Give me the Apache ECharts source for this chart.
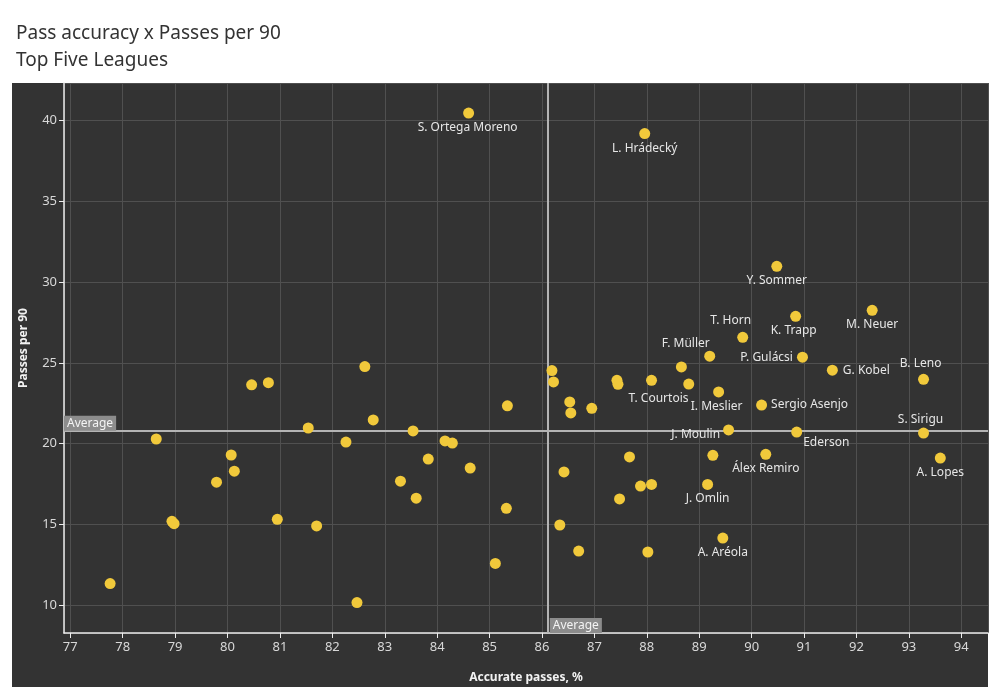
<!DOCTYPE html>
<html><head><meta charset="utf-8">
<script src="https://cdn.jsdelivr.net/npm/echarts@6/dist/echarts.min.js"></script>
<style>html,body{margin:0;padding:0;background:#fff}#c{width:1000px;height:700px}</style>
</head><body><div id="c"></div>
<script>
// ---- data ----
const accuracy = [84.60, 87.96, 90.48, 90.84, 92.30, 89.83, 89.20, 90.97, 88.66, 91.54,
  93.28, 86.19, 86.22, 87.43, 87.45, 88.09, 88.80, 89.37, 90.19, 86.53,
  86.55, 86.95, 89.56, 90.86, 93.28, 87.67, 89.26, 90.27, 93.60, 86.42,
  87.88, 88.09, 89.16, 87.48, 86.34, 89.45, 86.70, 88.02, 82.62, 80.46,
  80.78, 85.34, 82.78, 81.54, 83.54, 78.64, 82.26, 84.15, 84.29, 80.07,
  83.83, 80.13, 84.63, 79.79, 83.30, 83.60, 85.32, 78.94, 78.98, 80.95,
  81.70, 85.11, 77.76, 82.47];
const passesPer90 = [40.45, 39.18, 30.97, 27.88, 28.25, 26.58, 25.41, 25.35, 24.75, 24.55,
  23.98, 24.52, 23.82, 23.92, 23.67, 23.92, 23.69, 23.20, 22.39, 22.58,
  21.90, 22.19, 20.85, 20.72, 20.66, 19.18, 19.28, 19.34, 19.11, 18.25,
  17.38, 17.48, 17.48, 16.58, 14.97, 14.16, 13.36, 13.30, 24.77, 23.64,
  23.77, 22.34, 21.47, 20.97, 20.79, 20.29, 20.10, 20.17, 20.04, 19.30,
  19.05, 18.30, 18.49, 17.62, 17.68, 16.63, 16.00, 15.20, 15.05, 15.32,
  14.91, 12.59, 11.35, 10.17];
const players = ['S. Ortega Moreno', 'L. Hrádecký', 'Y. Sommer', 'K. Trapp', 'M. Neuer', 'T. Horn', 'F. Müller', 'P. Gulácsi', '', 'G. Kobel',
  'B. Leno', '', '', '', '', 'T. Courtois', '', 'I. Meslier', 'Sergio Asenjo', '',
  '', '', 'J. Moulin', 'Ederson', 'S. Sirigu', '', '', 'Álex Remiro', 'A. Lopes', '',
  '', '', 'J. Omlin', '', '', 'A. Aréola', '', '', '', '',
  '', '', '', '', '', '', '', '', '', '',
  '', '', '', '', '', '', '', '', '', '',
  '', '', '', ''];
const avgAccuracy = 86.11;
const avgPasses = 20.8;
const averageLabel = 'Average';
const titleText = 'Pass accuracy x Passes per 90';
const subtitleText = 'Top Five Leagues';
const xAxisName = 'Accurate passes, %';
const yAxisName = 'Passes per 90';

// ---- label placement (style, not data) ----
const labelPlacement = {
  'S. Ortega Moreno': {position: 'bottom', distance: 3, shift: [-1, 0]},
  'L. Hrádecký': {position: 'bottom', distance: 3},
  'Y. Sommer': {position: 'bottom', distance: 3},
  'K. Trapp': {position: 'bottom', distance: 3, shift: [-2, 0]},
  'M. Neuer': {position: 'bottom', distance: 3},
  'T. Horn': {position: 'top', distance: 3, shift: [-12, -2]},
  'F. Müller': {position: 'top', distance: 3, shift: [-24, 2]},
  'P. Gulácsi': {position: 'left', distance: 4},
  'G. Kobel': {position: 'right', distance: 5},
  'B. Leno': {position: 'top', distance: 4, shift: [-3, 0]},
  'T. Courtois': {position: 'bottom', distance: 3, shift: [7, 4]},
  'I. Meslier': {position: 'bottom', distance: 3, shift: [-2, 0]},
  'Sergio Asenjo': {position: 'right', distance: 4},
  'J. Moulin': {position: 'left', distance: 3, shift: [0, 5]},
  'Ederson': {position: 'right', distance: 1, shift: [0, 11]},
  'S. Sirigu': {position: 'top', distance: 2, shift: [-3, 0]},
  'Álex Remiro': {position: 'bottom', distance: 3},
  'A. Lopes': {position: 'bottom', distance: 3},
  'J. Omlin': {position: 'bottom', distance: 3},
  'A. Aréola': {position: 'bottom', distance: 3}
};

const FONT = 'Noto Sans';
const X_MIN = 76.88, X_MAX = 94.51, Y_MIN = 8.29, Y_MAX = 42.31;

const points = accuracy.map((x, i) => {
  const n = players[i];
  const item = {value: [x, passesPer90[i]], name: n};
  if (n) {
    const p = labelPlacement[n] || {position: 'bottom'};
    item.label = {show: true, formatter: n, position: p.position, distance: p.distance};
  }
  return item;
});

const avgBox = {
  show: true,
  formatter: averageLabel,
  color: '#f4f4f4',
  backgroundColor: '#8c8c8c',
  padding: [2, 3, 1, 3],
  fontFamily: FONT,
  fontSize: 12,
  align: 'left',
  verticalAlign: 'bottom',
  position: [0, 0]
};

const chart = echarts.init(document.getElementById('c'));
chart.setOption({
  backgroundColor: '#ffffff',
  animation: false,
  graphic: [{
    type: 'rect', left: 12, top: 83, z: -10,
    shape: {width: 976, height: 604},
    style: {fill: '#333333'}
  }],
  title: {
    text: titleText + '\n' + subtitleText,
    left: 11, top: 15,
    textStyle: {fontFamily: FONT, fontSize: 19, fontWeight: 'normal', color: '#333333', lineHeight: 27}
  },
  grid: {left: 64, top: 83, right: 12, bottom: 67, containLabel: false},
  xAxis: {
    type: 'value', min: X_MIN, max: X_MAX, splitNumber: 17,
    name: xAxisName, nameLocation: 'middle', nameGap: 39,
    nameTextStyle: {color: '#f2f2f2', fontFamily: FONT, fontSize: 12, fontWeight: 'bold'},
    axisLine: {show: true, lineStyle: {color: '#ececec', width: 1.5}},
    axisTick: {show: true, length: 5, lineStyle: {color: '#ececec'}},
    axisLabel: {color: '#d8d8d8', fontFamily: FONT, fontSize: 13, margin: 8, showMinLabel: false, showMaxLabel: false},
    splitLine: {show: true, lineStyle: {color: '#505050', width: 1}}
  },
  yAxis: {
    type: 'value', min: Y_MIN, max: Y_MAX, splitNumber: 7,
    name: yAxisName, nameLocation: 'middle', nameGap: 34, nameRotate: 90,
    nameTextStyle: {color: '#f2f2f2', fontFamily: FONT, fontSize: 12, fontWeight: 'bold', padding: [0, 0, 0, 20]},
    axisLine: {show: true, lineStyle: {color: '#ececec', width: 1.5}},
    axisTick: {show: true, length: 5, lineStyle: {color: '#ececec'}},
    axisLabel: {color: '#d8d8d8', fontFamily: FONT, fontSize: 13, margin: 7, showMinLabel: false, showMaxLabel: false},
    splitLine: {show: true, lineStyle: {color: '#505050', width: 1}}
  },
  series: [{
    type: 'scatter',
    symbolSize: 11,
    itemStyle: {color: '#f1c93b', opacity: 1},
    label: {color: '#e6e6e6', fontFamily: FONT, fontSize: 12},
    labelLayout: function (params) {
      const n = players[params.dataIndex];
      const p = n && labelPlacement[n];
      const s = (p && p.shift) || [0, 0];
      return {dx: s[0], dy: s[1], hideOverlap: false};
    },
    data: points,
    z: 5,
    markLine: {
      silent: true, symbol: 'none', animation: false,
      lineStyle: {color: '#b4b4b4', width: 2, type: 'solid'},
      label: {show: false},
      data: [{xAxis: avgAccuracy}, {yAxis: avgPasses}]
    },
    markPoint: {
      silent: true, symbol: 'circle', symbolSize: 0, animation: false,
      data: [
        {coord: [X_MIN, avgPasses], label: avgBox},
        {coord: [avgAccuracy, Y_MIN], label: Object.assign({}, avgBox, {position: [2, 0]})}
      ]
    }
  }]
});
</script></body></html>
